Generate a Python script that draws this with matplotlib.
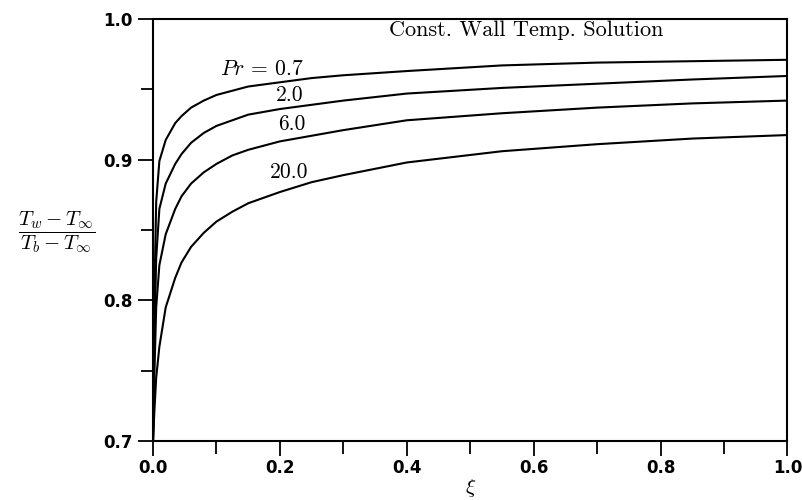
import numpy as np
import matplotlib
matplotlib.use('Agg')
import matplotlib.pyplot as plt
from matplotlib.ticker import MultipleLocator, FormatStrFormatter

plt.rcParams['mathtext.fontset'] = 'cm'

# xi positions and wall temperature ratio for each Prandtl number
xi = [0, 0.002, 0.005, 0.01, 0.02, 0.035, 0.045, 0.06, 0.08, 0.1, 0.125, 0.15, 0.2, 0.25,
      0.3, 0.4, 0.55, 0.7, 0.85, 1.0]
pr_07 = [0.70, 0.80, 0.87, 0.899, 0.914, 0.926, 0.931, 0.937, 0.942, 0.946, 0.949, 0.952,
         0.955, 0.958, 0.960, 0.963, 0.967, 0.969, 0.970, 0.971]
pr_2 = [0.70, 0.77, 0.83, 0.865, 0.883, 0.897, 0.904, 0.912, 0.919, 0.924, 0.928, 0.932,
        0.936, 0.939, 0.942, 0.947, 0.951, 0.954, 0.957, 0.9595]
pr_6 = [0.70, 0.745, 0.795, 0.825, 0.847, 0.865, 0.874, 0.883, 0.891, 0.897, 0.903, 0.907,
        0.913, 0.917, 0.921, 0.928, 0.933, 0.937, 0.940, 0.942]
pr_20 = [0.70, 0.72, 0.745, 0.767, 0.795, 0.816, 0.827, 0.838, 0.848, 0.856, 0.863, 0.869,
         0.877, 0.884, 0.889, 0.898, 0.906, 0.911, 0.915, 0.9175]

labels = [r'$Pr$ = 0.7', '2.0', '6.0', '20.0']
label_x = [0.171, 0.215, 0.218, 0.215]
label_y = [0.964, 0.946, 0.925, 0.891]

fig = plt.figure(figsize=(8.02, 5.0), dpi=100)
ax = fig.add_axes([0.1908, 0.118, 0.791, 0.844])

for ys in [pr_07, pr_2, pr_6, pr_20]:
    ax.plot(xi, ys, color='black', lw=1.5)

for lab, lx, ly in zip(labels, label_x, label_y):
    ax.text(lx, ly, lab, ha='center', va='center', fontsize=15.5, family='cmr10')

ax.text(0.589, 0.992, 'Const. Wall Temp. Solution', ha='center', va='center',
        fontsize=16, family='cmr10')

ax.set_xlim(0, 1)
ax.set_ylim(0.7, 1.0)
ax.xaxis.set_major_locator(MultipleLocator(0.2))
ax.xaxis.set_minor_locator(MultipleLocator(0.1))
ax.yaxis.set_major_locator(MultipleLocator(0.1))
ax.yaxis.set_minor_locator(MultipleLocator(0.05))
ax.tick_params(which='major', direction='out', length=11, width=1.3,
               top=False, right=False, labelsize=12)
ax.tick_params(which='minor', direction='out', length=9, width=1.3,
               top=False, right=False)
ax.tick_params(axis='x', pad=2)
for lab in ax.get_xticklabels() + ax.get_yticklabels():
    lab.set_fontweight('bold')
ax.xaxis.set_major_formatter(FormatStrFormatter('%.1f'))
ax.yaxis.set_major_formatter(FormatStrFormatter('%.1f'))
for s in ax.spines.values():
    s.set_linewidth(1.5)

ax.set_xlabel(r'$\xi$', fontsize=15, labelpad=0)
ax.set_ylabel(r'$\dfrac{T_w - T_\infty}{T_b - T_\infty}$', fontsize=15, rotation=0,
              ha='center', va='center')
ax.yaxis.set_label_coords(-0.151, 0.495)

fig.savefig('out.png', dpi=100)
